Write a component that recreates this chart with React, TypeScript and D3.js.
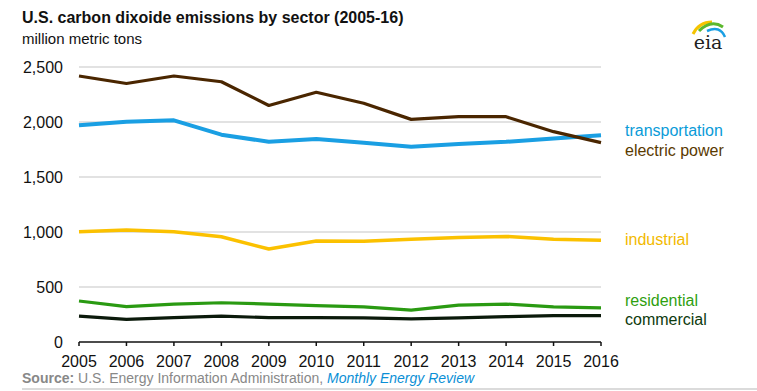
import * as d3 from 'd3';

const years = [2005, 2006, 2007, 2008, 2009, 2010, 2011, 2012, 2013, 2014, 2015, 2016];
const electricPower = [2418, 2350, 2418, 2366, 2150, 2270, 2170, 2024, 2048, 2048, 1912, 1812];
const transportation = [1970, 2003, 2015, 1885, 1820, 1845, 1812, 1775, 1800, 1820, 1850, 1880];
const industrial = [1003, 1018, 1003, 957, 845, 918, 915, 935, 950, 960, 935, 925];
const residential = [373, 321, 345, 357, 345, 330, 320, 290, 335, 345, 320, 310];
const commercial = [236, 206, 221, 236, 221, 221, 220, 210, 220, 230, 240, 240];
const yTicks = [0, 500, 1000, 1500, 2000, 2500];

const series = [
  { name: 'transportation', values: transportation, color: '#1a9fe3', label: '#0a9bd8', width: 4, ly: 136 },
  { name: 'electric power', values: electricPower, color: '#4a2600', label: '#5a3a00', width: 3.2, ly: 156 },
  { name: 'industrial', values: industrial, color: '#fbc100', label: '#f2b900', width: 3.5, ly: 245 },
  { name: 'residential', values: residential, color: '#2a9a12', label: '#2f9f10', width: 3.2, ly: 306 },
  { name: 'commercial', values: commercial, color: '#0b1a0b', label: '#0d3a0d', width: 3.2, ly: 325 },
];

const font = '"Liberation Sans", Arial, sans-serif';

export default function App() {
  const x = d3.scaleLinear().domain([2005, 2016]).range([79, 601]);
  const y = d3.scaleLinear().domain([0, 2500]).range([342, 67]);
  const line = d3
    .line<number>()
    .x((_, i) => x(years[i]))
    .y((d) => y(d));

  return (
    <svg width={757} height={391} style={{ position: 'absolute', left: 0, top: 0, background: '#fff' }} fontFamily={font}>
      <text x={22} y={23} fontSize={16} fontWeight="bold" fill="#111">
        U.S. carbon dixoide emissions by sector (2005-16)
      </text>
      <text x={22} y={44} fontSize={15} fill="#111">
        million metric tons
      </text>

      {/* eia logo */}
      <g>
        <path d="M693,34 Q699,22 712,22" fill="none" stroke="#f5c400" strokeWidth={3} />
        <path d="M699,31 Q711,19 723,27" fill="none" stroke="#5cb82e" strokeWidth={3} />
        <path d="M707,31 Q720,25 725,37" fill="none" stroke="#1a9fe3" strokeWidth={2.5} />
        <text x={708} y={49} fontSize={19} fontFamily='"DejaVu Serif", serif' textAnchor="middle" fill="#222">
          eia
        </text>
      </g>

      {yTicks.filter((t) => t > 0).map((t) => (
        <line key={t} x1={79} x2={601} y1={y(t)} y2={y(t)} stroke="#d9d9d9" strokeWidth={1.5} />
      ))}
      {yTicks.map((t) => (
        <text key={t} x={63} y={y(t) + 6} fontSize={16} textAnchor="end" fill="#111">
          {d3.format(',')(t)}
        </text>
      ))}

      <line x1={79} x2={601} y1={y(0)} y2={y(0)} stroke="#111" strokeWidth={1.5} />
      {years.map((yr) => (
        <g key={yr}>
          <line x1={x(yr)} x2={x(yr)} y1={y(0)} y2={y(0) + 4} stroke="#111" strokeWidth={1.5} />
          <text x={x(yr)} y={367} fontSize={16} textAnchor="middle" fill="#111">
            {yr}
          </text>
        </g>
      ))}

      {series.map((s) => (
        <g key={s.name}>
          <path d={line(s.values) ?? undefined} fill="none" stroke={s.color} strokeWidth={s.width} strokeLinejoin="round" />
          <text x={625} y={s.ly} fontSize={16} fill={s.label}>
            {s.name}
          </text>
        </g>
      ))}

      <text x={22} y={383} fontSize={14} fill="#888">
        <tspan fontWeight="bold">Source:</tspan> U.S. Energy Information Administration,{' '}
        <tspan fill="#0a8fd6" fontStyle="italic">Monthly Energy Review</tspan>
      </text>
      <line x1={22} x2={757} y1={389} y2={389} stroke="#cfcfcf" strokeWidth={1.5} />
    </svg>
  );
}
